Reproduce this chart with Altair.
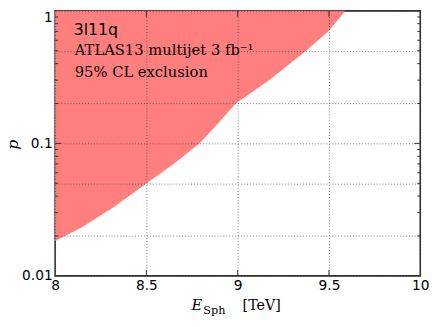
import altair as alt
import pandas as pd

# Exclusion boundary
energy = [8.0, 8.147, 8.326, 8.5, 8.649, 8.79, 8.89, 8.989, 9.168, 9.375, 9.5, 9.59]
p_limit = [0.0183, 0.0233, 0.0334, 0.0497, 0.0699, 0.1, 0.14, 0.2, 0.297, 0.5, 0.707, 1.0]

x_ticks = [8, 8.5, 9, 9.5, 10]
x_inner_ticks = [8.5, 9, 9.5]
y_grid = [0.01, 0.02, 0.05, 0.1, 0.2, 0.5, 1]
y_major_inner = [0.1]
y_minor = [0.02, 0.03, 0.04, 0.05, 0.06, 0.07, 0.08, 0.09,
           0.2, 0.3, 0.4, 0.5, 0.6, 0.7, 0.8, 0.9]

W, H = 372, 270
SERIF = "DejaVu Serif"
SANS = "DejaVu Sans"

xscale = alt.Scale(domain=[8, 10], nice=False, zero=False)
yscale = alt.Scale(type="log", domain=[0.01, 1], nice=False)

df = pd.DataFrame({"E": energy, "p": p_limit})

area = alt.Chart(df).mark_area(color="#ff7f7f", opacity=1, interpolate="linear").encode(
    x=alt.X("E:Q", scale=xscale, title=None,
            axis=alt.Axis(values=x_ticks, format="~g", grid=True, gridDash=[1, 2],
                          gridColor="#333", gridWidth=0.8, gridOpacity=0.8,
                          domain=False, ticks=False, tickSize=0, labelPadding=3,
                          labelFont=SANS, labelFontSize=14, labelColor="black",
                          labelFlush=False, labelOverlap=False, zindex=1)),
    y=alt.Y("p:Q", scale=yscale, title=None,
            axis=alt.Axis(values=y_grid, format="~g",
                          labelExpr="(datum.value == 0.01 || datum.value == 0.1 || datum.value == 1) ? datum.label : ''",
                          labelBaseline={"condition": {"test": "datum.value == 1", "value": "top"},
                                         "value": "middle"},
                          grid=True, gridDash=[1, 2], gridColor="#333", gridWidth=0.8,
                          gridOpacity=0.8, domain=False, ticks=False, tickSize=0,
                          labelPadding=3, labelFont=SANS, labelFontSize=14,
                          labelColor="black", labelFlush=False, labelOverlap=False,
                          zindex=1)),
    y2=alt.datum(1),
)

def yrules(vals, x0, x1):
    d = pd.DataFrame({"p": vals})
    return alt.Chart(d).mark_rule(color="#333", strokeWidth=1).encode(
        y=alt.Y("p:Q", scale=yscale), x=alt.value(x0), x2=alt.value(x1))

def xrules(vals, y0, y1):
    d = pd.DataFrame({"E": vals})
    return alt.Chart(d).mark_rule(color="#333", strokeWidth=1).encode(
        x=alt.X("E:Q", scale=xscale), y=alt.value(y0), y2=alt.value(y1))

ticks = [
    yrules(y_minor, 0, 3), yrules(y_minor, W - 3, W),
    yrules(y_major_inner, 0, 6), yrules(y_major_inner, W - 6, W),
    xrules(x_inner_ticks, H - 6, H), xrules(x_inner_ticks, 0, 6),
]

one = pd.DataFrame({"k": [0]})

def label(text, x, y, size, font=SERIF, style="normal", align="left", angle=0, baseline="alphabetic"):
    return alt.Chart(one).mark_text(text=text, font=font, fontSize=size, fontStyle=style,
                                    align=align, baseline=baseline, angle=angle,
                                    color="black").encode(x=alt.value(x), y=alt.value(y))

texts = [
    label("3l11q", 19, 24.7, 16, font=SANS),
    label("ATLAS13 multijet 3 fb\u207b\u00b9", 20, 44.7, 15),
    label("95% CL exclusion", 20, 67.5, 15),
    label("p", -43, 136.5, 16, style="italic", align="center", angle=270, baseline="middle"),
    label("E", 139, 305, 15, style="italic"),
    label("Sph", 151, 308.5, 11.5),
    label("[TeV]", 191, 305, 14.5),
]

chart = alt.layer(area, *ticks, *texts).properties(
    width=W, height=H,
    autosize=alt.AutoSizeParams(type="none"),
    padding={"left": 48, "top": 0, "right": 13, "bottom": 41},
).configure_view(stroke="#333", strokeWidth=1.6)

chart.save("out.html", embed_options={"renderer": "svg", "actions": False})
